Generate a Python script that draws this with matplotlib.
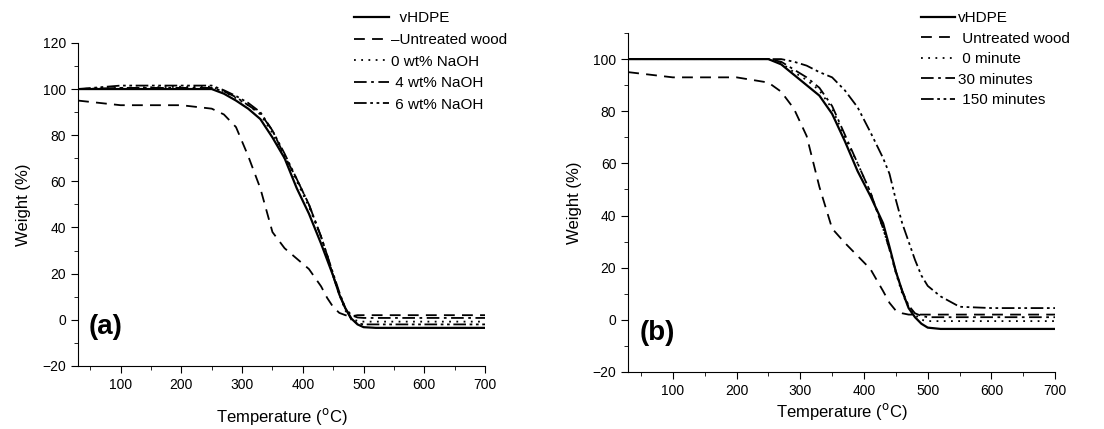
"""TGA curves of vHDPE and wood composites, panels (a) and (b)"""

import matplotlib
matplotlib.use('Agg')
import matplotlib.pyplot as plt
from matplotlib.ticker import MultipleLocator

plt.rcParams['font.family'] = ['Liberation Sans', 'DejaVu Sans']

# temperature grid shared by all curves (deg C)
temp = [30, 100, 200, 250, 270, 290, 310, 330, 350, 370, 390, 410, 430, 440,
        450, 460, 470, 480, 490, 500, 520, 550, 600, 700]

# panel (a): NaOH concentration
a_labels = ['  vHDPE', '\u2013Untreated wood', '0 wt% NaOH', ' 4 wt% NaOH', ' 6 wt% NaOH']
a_vhdpe = [100, 100, 100, 100, 98, 95, 91.5, 87, 79, 70, 57, 46, 33, 26,
           19, 11, 5, 0.5, -2, -3.2, -3.5, -3.5, -3.5, -3.5]
a_wood = [95, 93, 93, 91.5, 89, 83.5, 71, 57, 38, 31, 26.5, 22, 14.5, 9.5,
          5.5, 3, 2, 1.5, 2, 2, 2, 2, 2, 2]
a_naoh0 = [100, 100.5, 101, 101, 99, 96, 93, 89, 81, 70, 60, 49, 36, 28,
           19, 11, 4, 0.5, -0.5, -0.8, -0.8, -0.8, -0.8, -0.8]
a_naoh4 = [100, 100.5, 100.5, 100.5, 99, 96.5, 93, 89.5, 82, 71, 61, 50, 36, 28,
           19, 11, 5, 2, 1, 0.8, 0.8, 0.8, 0.8, 0.8]
a_naoh6 = [100, 101.5, 101.5, 101.5, 99.5, 97, 94, 90, 82, 72, 61, 50, 36, 28,
           20, 12, 5, 0, -1.5, -2, -2, -2, -2, -2]

# panel (b): treatment time
b_labels = ['vHDPE', ' Untreated wood', ' 0 minute', '30 minutes', ' 150 minutes']
b_vhdpe = [100, 100, 100, 100, 98, 94, 90, 86, 79, 68.5, 57, 47.5, 37, 28,
           18.5, 11, 4.5, 1, -1.5, -3, -3.5, -3.5, -3.5, -3.5]
b_wood = [95, 93, 93, 91, 87.5, 81, 70.5, 51, 35, 29.5, 24.5, 19.5, 11, 6.5,
          3.5, 2.5, 2, 2, 2, 2, 2, 2, 2, 2]
b_min0 = [100, 100, 100, 100, 98.5, 95, 92, 88, 81, 70, 60, 49, 35, 27,
          18, 10, 5, 2, 0, -0.5, -0.5, -0.5, -0.5, -0.5]
b_min30 = [100, 100, 100, 100, 99, 96, 93, 89, 82, 71, 60, 49, 35, 27,
           18.5, 11, 5.5, 2.5, 1.5, 1, 1, 1, 1, 1]
b_min150 = [100, 100, 100, 100, 100, 99, 97.5, 95, 93, 88, 81.5, 72, 62, 56,
            46, 37, 30, 23, 17, 13, 9, 5, 4.5, 4.5]

styles = [
    dict(linestyle='-', linewidth=1.6),
    dict(linestyle=(0, (6, 4)), linewidth=1.3),
    dict(linestyle=(0, (1, 3)), linewidth=1.3),
    dict(linestyle=(0, (7, 2.5, 1.5, 2.5)), linewidth=1.3),
    dict(linestyle=(0, (7, 2, 1.5, 2, 1.5, 2)), linewidth=1.3),
]

fig = plt.figure(figsize=(11.04, 4.29), dpi=100)
ax_a = fig.add_axes([0.0707, 0.147, 0.3687, 0.753])
ax_b = fig.add_axes([0.569, 0.133, 0.3868, 0.790])


def style_axis(ax, ylim, ytop_tick, xpad):
    ax.set_xlim(30, 700)
    ax.set_ylim(*ylim)
    ax.spines['top'].set_visible(False)
    ax.spines['right'].set_visible(False)
    ax.xaxis.set_major_locator(MultipleLocator(100))
    ax.xaxis.set_minor_locator(MultipleLocator(50))
    ax.set_yticks(range(-20, ytop_tick + 1, 20))
    ax.yaxis.set_minor_locator(MultipleLocator(10))
    ax.tick_params(which='major', direction='out', length=5, labelsize=10)
    ax.tick_params(which='minor', direction='out', length=3)
    ax.set_xlabel('Temperature ($^{\\mathrm{o}}$C)', fontsize=12, labelpad=xpad)
    ax.set_ylabel('Weight (%)', fontsize=12, labelpad=8)


series_a = [a_vhdpe, a_wood, a_naoh0, a_naoh4, a_naoh6]
for vals, lab, st in zip(series_a, a_labels, styles):
    ax_a.plot(temp, vals, color='black', label=lab, **st)
style_axis(ax_a, (-20, 120), 120, 10)
ax_a.text(48, -3, '(a)', fontsize=20, fontweight='bold', va='center')
ax_a.legend(loc='upper left', bbox_to_anchor=(0.315, 0.988), bbox_transform=fig.transFigure,
            frameon=False, fontsize=11, handlelength=2.3, handletextpad=0.15,
            labelspacing=0.5, borderaxespad=0)

series_b = [b_vhdpe, b_wood, b_min0, b_min30, b_min150]
for vals, lab, st in zip(series_b, b_labels, styles):
    ax_b.plot(temp, vals, color='black', label=lab, **st)
style_axis(ax_b, (-20, 110), 100, 2)
ax_b.text(48, -5, '(b)', fontsize=20, fontweight='bold', va='center')
ax_b.legend(loc='upper left', bbox_to_anchor=(0.829, 0.988), bbox_transform=fig.transFigure,
            frameon=False, fontsize=11, handlelength=2.2, handletextpad=0.2,
            labelspacing=0.42, borderaxespad=0)

fig.savefig('out.png', dpi=100)
